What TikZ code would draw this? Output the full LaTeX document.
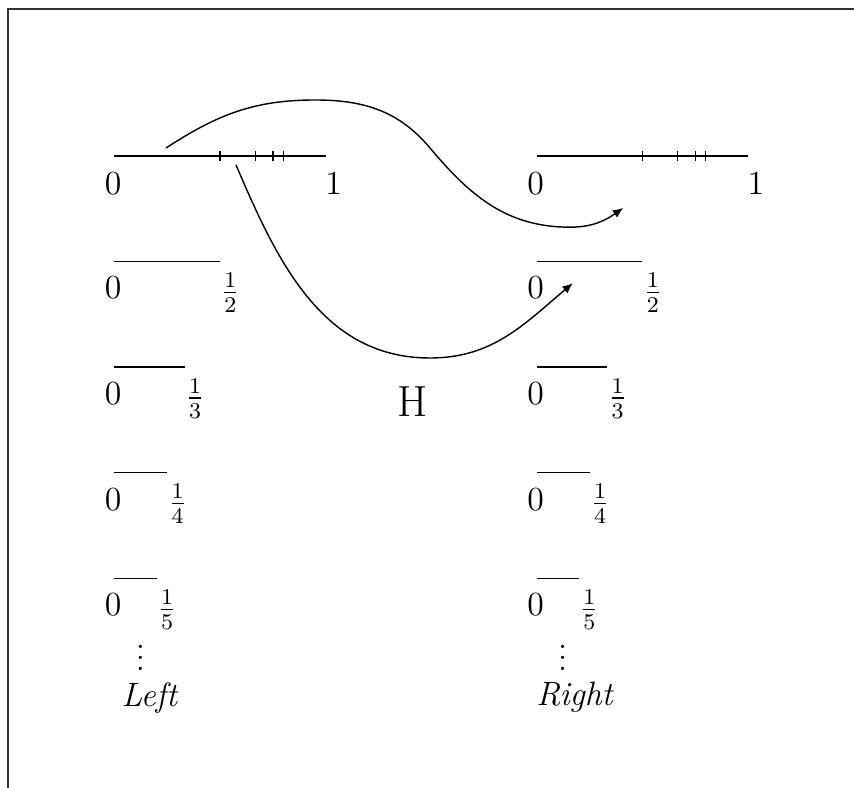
\documentclass[tikz,border=0pt,12pt]{standalone}
\usepackage{amsmath}
\usetikzlibrary{arrows.meta}

\begin{document}
\begin{tikzpicture}[
    numline/.style={line width=0.5pt},
    tickmark/.style={line width=0.5pt},
    lbl/.style={inner sep=0pt, anchor=center},
    dotsbox/.style={lbl, text height=9pt, text depth=0pt},
    mapcurve/.style={line width=0.5pt, -{Latex[length=1.3mm, width=1.1mm]}}
]
    \useasboundingbox (0,0) rectangle (10.675,-9.85);

    % Frame
    \draw[line width=0.8pt, black!80] (0.1,-9.85) |- (10.675,-0.11);

    % Unit intervals with ticks at 1/2, 2/3, 3/4, 4/5
    \draw[numline] (1.43,-1.95) -- (4.07,-1.95);
    \draw[numline] (6.71,-1.95) -- (9.35,-1.95);
    \foreach \t in {0.5, 0.6667, 0.75, 0.8} {
        \draw[tickmark] ({1.43+2.64*\t},-1.89) -- ++(0,-0.12);
        \draw[tickmark] ({6.71+2.64*\t},-1.89) -- ++(0,-0.12);
    }
    \node[lbl] (L0) at (1.415,-2.29) {0};
    \node[lbl] (L1) at (4.17,-2.29) {1};
    \node[lbl] (R0) at (6.695,-2.29) {0};
    \node[lbl] (R1) at (9.45,-2.29) {1};

    % Shorter intervals [0,1/n]
    \foreach \n in {2,...,5} {
        \pgfmathsetmacro\y{-1.95-1.32*(\n-1)}
        \pgfmathsetmacro\e{2.64/\n}
        \draw[numline] (1.43,\y) -- ++(\e,0);
        \draw[numline] (6.71,\y) -- ++(\e,0);
        \node[lbl] (l0-\n) at (1.415,{\y-0.33}) {0};
        \node[lbl] (lf-\n) at ({1.43+\e+0.13},{\y-0.39}) {$\frac{1}{\n}$};
        \node[lbl] (r0-\n) at (6.695,{\y-0.33}) {0};
        \node[lbl] (rf-\n) at ({6.71+\e+0.13},{\y-0.39}) {$\frac{1}{\n}$};
    }

    % Dots and column names
    \node[dotsbox] (ldots) at (1.755,-8.225) {$\vdots$};
    \node[dotsbox] (rdots) at (7.035,-8.225) {$\vdots$};
    \node[lbl] (lname) at (1.875,-8.72) {\textit{Left}};
    \node[lbl] (rname) at (7.19,-8.72) {\textit{Right}};

    % The map H
    \node[lbl] (hmap) at (5.16,-5.025) {\fontsize{15.5}{18}\selectfont H};

    % Curves
    \coordinate (a1) at (2.075,-1.85);
    \coordinate (apeak) at (3.94,-1.25);
    \coordinate (amid) at (5.375,-1.85);
    \coordinate (alow) at (7.125,-2.84);
    \coordinate (a2) at (7.79,-2.6);
    \coordinate (b1) at (2.95,-2.06);
    \coordinate (blow) at (5.375,-4.475);
    \coordinate (b2) at (7.16,-3.54);

    \draw[mapcurve] (a1) to[out=33,in=180] (apeak) to[out=0,in=130] (amid)
        to[out=-50,in=180] (alow) to[out=0,in=215] (a2);
    \draw[mapcurve] (b1) to[out=-67,in=180] (blow) to[out=0,in=220] (b2);
\end{tikzpicture}
\end{document}
